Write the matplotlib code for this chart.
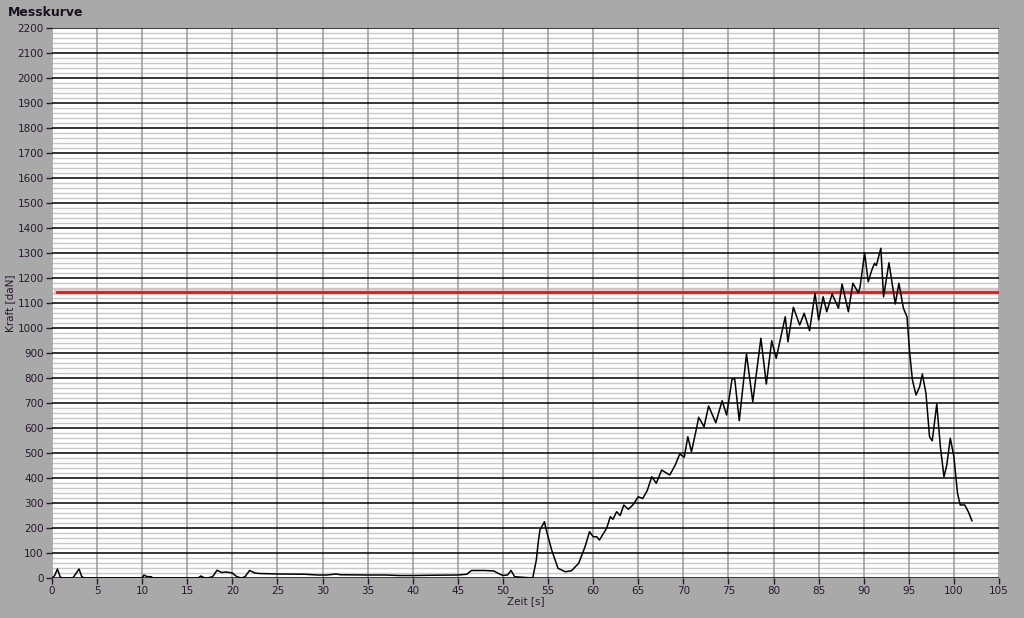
import numpy as np
import matplotlib.pyplot as plt
from matplotlib.ticker import MultipleLocator

# Messkurve: Zeit [s] vs Kraft [daN]
zeit = [0, 0.3, 0.6, 0.9, 1.1, 2.3, 2.6, 3.0, 3.3, 3.6,
        10.0, 10.2, 10.5, 11.0, 11.2, 16.2, 16.5, 16.8, 17.2, 17.8,
        18.3, 18.8, 19.3, 20.0, 20.5, 21.0, 21.4, 21.9, 22.5, 23.0,
        25.0, 28.0, 29.5, 30.5, 31.5, 32.0, 35.0, 37.0, 38.5, 40.0,
        42.0, 45.0, 46.0, 46.5, 48.0, 49.0, 49.5, 50.0, 50.5, 50.9,
        51.3, 53.3, 53.7, 53.9, 54.1, 54.6, 54.8, 55.4, 56.1, 56.9,
        57.6, 58.4, 59.1, 59.6, 60.0, 60.4, 60.7, 61.5, 61.9, 62.2,
        62.6, 63.0, 63.4, 63.9, 64.4, 65.0, 65.5, 66.0, 66.5, 67.0,
        67.6, 67.9, 68.5, 69.1, 69.6, 70.1, 70.5, 70.9, 71.5, 71.7,
        72.3, 72.8, 73.6, 74.3, 74.8, 75.4, 75.7, 76.2, 77.0, 77.7,
        78.6, 79.2, 79.8, 80.3, 81.3, 81.6, 82.2, 82.9, 83.4, 84.0,
        84.6, 85.0, 85.5, 85.9, 86.5, 87.2, 87.6, 88.3, 88.8, 89.4,
        89.6, 90.1, 90.5, 90.9, 91.2, 91.4, 91.9, 92.2, 92.8, 93.5,
        93.9, 94.4, 94.8, 95.1, 95.4, 95.8, 96.2, 96.5, 96.9, 97.3,
        97.6, 98.1, 98.5, 98.9, 99.2, 99.6, 100.0, 100.4, 100.7, 101.2,
        101.6, 102.0]
kraft = [0, 10, 36, 5, 0, 0, 15, 36, 5, 0,
         0, 12, 6, 5, 0, 0, 8, 2, 0, 5,
         31, 22, 24, 20, 5, 0, 5, 30, 20, 18,
         16, 15, 12, 12, 16, 13, 12, 12, 10, 10,
         11, 12, 15, 30, 30, 28, 18, 10, 12, 30,
         5, 0, 72, 139, 192, 225, 192, 112, 39, 25,
         29, 59, 125, 185, 165, 165, 152, 199, 245, 235,
         265, 250, 292, 275, 292, 325, 318, 350, 405, 379,
         432, 425, 412, 452, 496, 483, 565, 505, 605, 643,
         605, 688, 621, 709, 652, 796, 796, 629, 896, 705,
         959, 776, 949, 879, 1045, 945, 1083, 1012, 1059, 989,
         1139, 1032, 1125, 1065, 1136, 1079, 1176, 1065, 1179, 1141,
         1165, 1300, 1185, 1232, 1259, 1250, 1319, 1125, 1261, 1096,
         1179, 1079, 1045, 899, 792, 732, 765, 816, 739, 565,
         549, 696, 525, 405, 450, 559, 485, 339, 292, 292,
         265, 229]
grenzwert = 1145

bg = '#a9a9a9'
txt = '#2a1830'

fig = plt.figure(figsize=(10.24, 6.18), dpi=100, facecolor=bg)
ax = fig.add_axes([52 / 1024, 40 / 618, 947 / 1024, 550 / 618])
ax.set_facecolor('white')

ax.set_xlim(0, 105)
ax.set_ylim(0, 2200)
ax.xaxis.set_major_locator(MultipleLocator(5))
ax.yaxis.set_major_locator(MultipleLocator(100))
ax.yaxis.set_minor_locator(MultipleLocator(20))

# grid: light minor lines, then grey verticals, then black majors
ax.grid(which='minor', axis='y', color='#c8c8c8', lw=1, zorder=0.5)
ax.vlines(ax.get_xticks(), 0, 2200, color='#999999', lw=1.1, zorder=0.7)
ax.hlines(ax.get_yticks(), 0, 105, color='black', lw=1.1, zorder=0.8)
ax.set_axisbelow(True)

for s in ax.spines.values():
    s.set_visible(False)

ax.tick_params(which='major', direction='out', length=4, width=1, color=txt,
               labelcolor=txt, labelsize=7.5, pad=2)
ax.tick_params(which='minor', length=0)

# limit line
ax.axhline(grenzwert, xmin=0.005, color='#e8a0a0', lw=4.5, alpha=0.6, zorder=2)
ax.axhline(grenzwert, xmin=0.005, color='#c02828', lw=2, zorder=2)

ax.plot(zeit, kraft, color='black', lw=1.1, zorder=3)

ax.set_xlim(0, 105)
ax.set_ylim(0, 2200)
ax.set_xlabel('Zeit [s]', color=txt, fontsize=7.5, labelpad=0)
ax.set_ylabel('Kraft [daN]', color=txt, fontsize=7.5, labelpad=2)
fig.text(8 / 1024, 1 - 12 / 618, 'Messkurve', fontsize=9, fontweight='bold',
         color='#1a1020', va='center', ha='left')

fig.savefig('out.png', dpi=100, facecolor=bg)
